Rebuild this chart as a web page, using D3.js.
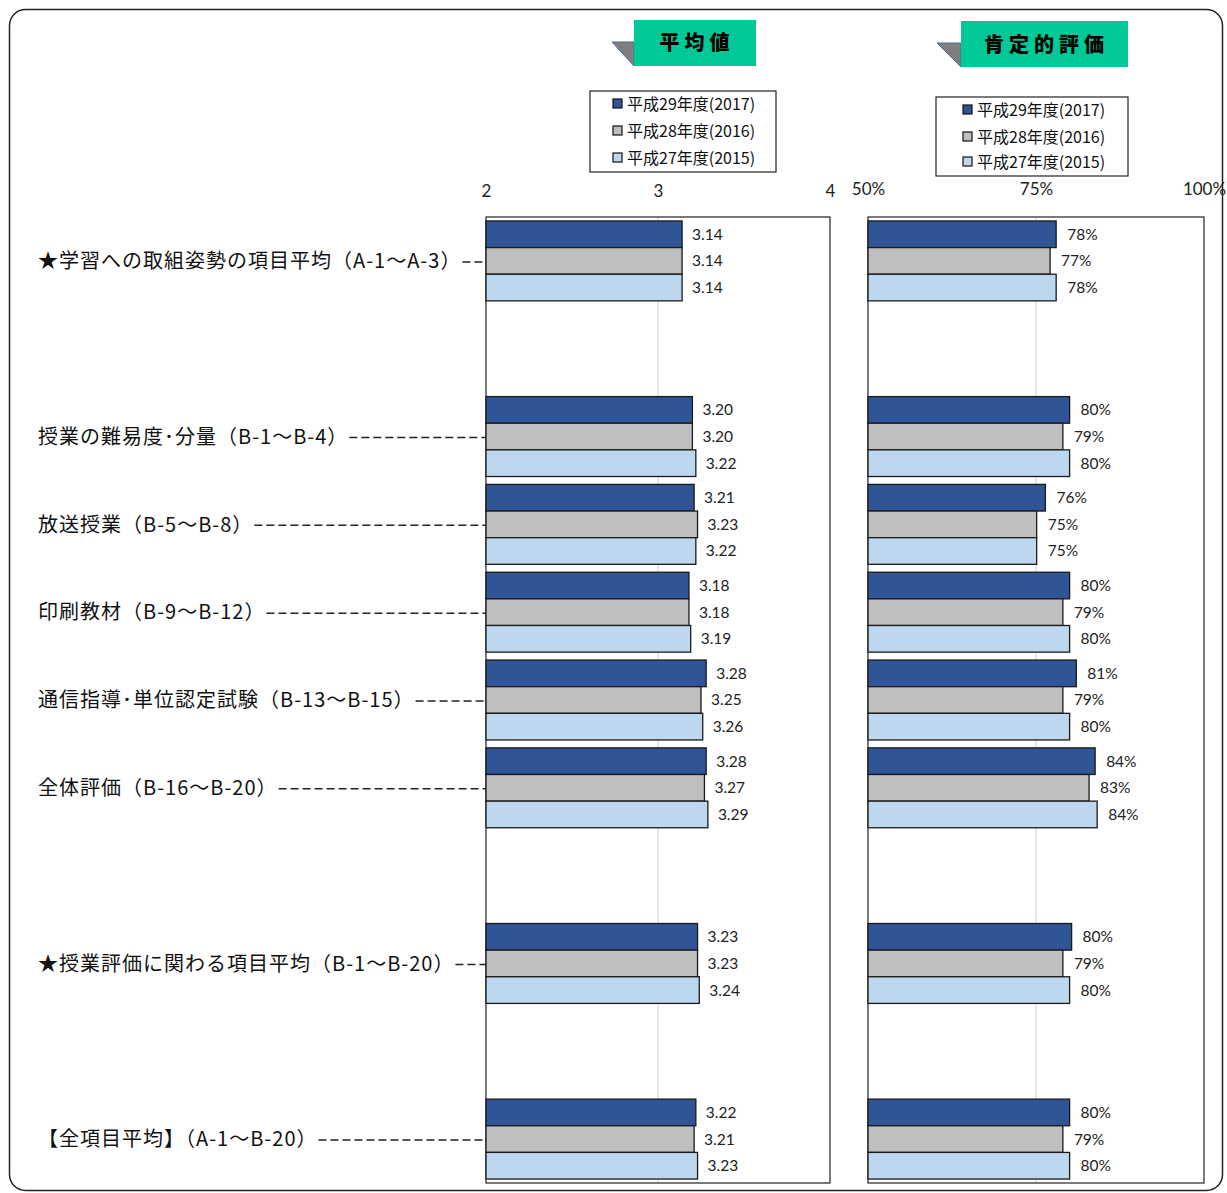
<!DOCTYPE html>
<meta charset="utf-8">
<script src="https://cdn.jsdelivr.net/npm/d3@7"></script>
<style>
  body { margin: 0; background: #fff; }
</style>
<div id="chart"></div>
<script>

// categories (blank entries are the empty rows of the sheet)
var categories = [
  "★学習への取組姿勢の項目平均（A-1～A-3）",
  "",
  "授業の難易度･分量（B-1～B-4）",
  "放送授業（B-5～B-8）",
  "印刷教材（B-9～B-12）",
  "通信指導･単位認定試験（B-13～B-15）",
  "全体評価（B-16～B-20）",
  "",
  "★授業評価に関わる項目平均（B-1～B-20）",
  "",
  "【全項目平均】（A-1～B-20）"
];
var seriesNames = ["平成29年度(2017)", "平成28年度(2016)", "平成27年度(2015)"];
var seriesColors = ["#2F5597", "#BFBFBF", "#BDD7EE"];

// 平均値
var mean2017 = [3.14, null, 3.20, 3.21, 3.18, 3.28, 3.28, null, 3.23, null, 3.22];
var mean2016 = [3.14, null, 3.20, 3.23, 3.18, 3.25, 3.27, null, 3.23, null, 3.21];
var mean2015 = [3.14, null, 3.22, 3.22, 3.19, 3.26, 3.29, null, 3.24, null, 3.23];
var meanTicks = [2, 3, 4];

// 肯定的評価 (%)
var pos2017 = [78, null, 80, 76.4, 80, 81, 83.8, null, 80.3, null, 80];
var pos2016 = [77.1, null, 79, 75.1, 79, 79, 82.9, null, 79, null, 79];
var pos2015 = [78, null, 80, 75.1, 80, 80, 84.1, null, 80, null, 80];
var posTicks = [50, 75, 100];

var width = 1227, height = 1193;
var jp = "'Noto Sans CJK JP', 'Noto Sans', sans-serif";
var num = "Lato, 'Liberation Sans', sans-serif";

var svg = d3.select("#chart")
  .append("svg")
    .attr("width", width)
    .attr("height", height);

// outer rounded frame
svg.append("rect")
  .attr("x", 9.5).attr("y", 9.5)
  .attr("width", 1213).attr("height", 1181)
  .attr("rx", 16)
  .attr("fill", "none")
  .attr("stroke", "#222")
  .attr("stroke-width", 1.5);

var plotTop = 217, plotBottom = 1183;

var y = d3.scaleBand()
  .domain(d3.range(categories.length))
  .range([plotTop, plotBottom])
  .paddingInner(0.09)
  .paddingOuter(0.045);

var ySub = d3.scaleBand()
  .domain(d3.range(seriesNames.length))
  .range([0, y.bandwidth()]);

function drawPanel(opt) {
  var x = d3.scaleLinear().domain(opt.domain).range(opt.range);
  var g = svg.append("g");

  // tick labels
  var axis = g.append("g")
    .attr("transform", "translate(0," + opt.tickY + ")")
    .call(d3.axisTop(x).tickValues(opt.ticks).tickSize(0).tickPadding(0).tickFormat(opt.tickFormat));
  axis.select(".domain").remove();
  axis.selectAll("text")
    .attr("font-family", num)
    .attr("font-size", 17)
    .attr("fill", "#222");

  // gridline
  g.append("line")
    .attr("x1", x(opt.grid)).attr("x2", x(opt.grid))
    .attr("y1", plotTop).attr("y2", plotBottom)
    .attr("stroke", "#D9D9D9")
    .attr("stroke-width", 1.2);

  // plot box
  g.append("rect")
    .attr("x", x(opt.domain[0])).attr("y", plotTop)
    .attr("width", x(opt.domain[1]) - x(opt.domain[0]))
    .attr("height", plotBottom - plotTop)
    .attr("fill", "none")
    .attr("stroke", "#222")
    .attr("stroke-width", 1.2);

  opt.series.forEach(function(vals, s) {
    var rows = vals.map(function(v, i) { return {v: v, i: i}; })
      .filter(function(d) { return d.v != null; });

    g.selectAll(".bar" + s)
      .data(rows)
      .enter()
      .append("rect")
        .attr("x", x(opt.domain[0]))
        .attr("y", function(d) { return y(d.i) + ySub(s); })
        .attr("width", function(d) { return x(d.v) - x(opt.domain[0]); })
        .attr("height", ySub.bandwidth())
        .attr("fill", seriesColors[s])
        .attr("stroke", "#1a1a1a")
        .attr("stroke-width", 1.3);

    g.selectAll(".lab" + s)
      .data(rows)
      .enter()
      .append("text")
        .attr("x", function(d) { return x(d.v) + opt.labelGap; })
        .attr("y", function(d) { return y(d.i) + ySub(s) + ySub.bandwidth() / 2; })
        .attr("dy", "0.35em")
        .attr("font-family", num)
        .attr("font-size", 15.5)
        .attr("fill", "#222")
        .text(function(d) { return opt.labelFormat(d.v); });
  });
}

drawPanel({
  domain: [2, 4], range: [486, 830], ticks: meanTicks, grid: 3, tickY: 197,
  tickFormat: d3.format("d"),
  series: [mean2017, mean2016, mean2015],
  labelGap: 10,
  labelFormat: d3.format(".2f")
});

drawPanel({
  domain: [50, 100], range: [868, 1204], ticks: posTicks, grid: 75, tickY: 195,
  tickFormat: function(d) { return d + "%"; },
  series: [pos2017, pos2016, pos2015],
  labelGap: 11,
  labelFormat: function(d) { return Math.round(d) + "%"; }
});

// category labels with dashed leaders
var leftEdge = 486;
categories.forEach(function(c, i) {
  if (!c) return;
  var cy = y(i) + y.bandwidth() / 2;
  var t = svg.append("text")
    .attr("x", 38)
    .attr("y", cy)
    .attr("dy", "0.36em")
    .attr("font-family", jp)
    .attr("font-size", 20)
    .attr("letter-spacing", 1)
    .attr("fill", "#111")
    .text(c);
  var len = t.node().getComputedTextLength();
  svg.append("line")
    .attr("x1", 38 + len + 1).attr("x2", leftEdge)
    .attr("y1", cy + 1).attr("y2", cy + 1)
    .attr("stroke", "#222")
    .attr("stroke-width", 1.5)
    .attr("stroke-dasharray", "8,4");
});

// title badges
function badge(x0, y0, w, h, tri, label, ty) {
  svg.append("polygon")
    .attr("points", [[x0 - tri, y0 + 22], [x0, y0 + 22], [x0, y0 + h]].join(" "))
    .attr("fill", "#7F7F7F")
    .attr("stroke", "#4A6A9A")
    .attr("stroke-width", 1);
  svg.append("rect")
    .attr("x", x0).attr("y", y0)
    .attr("width", w).attr("height", h)
    .attr("fill", "#00C896");
  svg.append("text")
    .attr("x", x0 + w / 2 + 2)
    .attr("y", ty)
    .attr("dy", "0.36em")
    .attr("text-anchor", "middle")
    .attr("font-family", jp)
    .attr("font-size", 20)
    .attr("font-weight", "900")
    .attr("letter-spacing", 5)
    .attr("fill", "#000")
    .text(label);
}
badge(634, 20, 122, 46, 22, "平均値", 43);
badge(961, 21, 167, 46, 24, "肯定的評価", 45);

// legends
function legend(x0, y0, w, h, mx, rows) {
  svg.append("rect")
    .attr("x", x0).attr("y", y0)
    .attr("width", w).attr("height", h)
    .attr("fill", "#fff")
    .attr("stroke", "#222")
    .attr("stroke-width", 1.2);
  var items = svg.selectAll(null)
    .data(seriesNames)
    .enter()
    .append("g")
      .attr("transform", function(d, i) { return "translate(" + mx + "," + rows[i] + ")"; });
  items.append("rect")
    .attr("x", 0).attr("y", -5)
    .attr("width", 9).attr("height", 9)
    .attr("fill", function(d, i) { return seriesColors[i]; })
    .attr("stroke", "#111")
    .attr("stroke-width", 1.2);
  items.append("text")
    .attr("x", 14)
    .attr("dy", "0.35em")
    .attr("font-family", jp)
    .attr("font-size", 16)
    .attr("fill", "#111")
    .text(function(d) { return d; });
}
legend(590, 91, 186, 81, 613, [104, 131, 158]);
legend(936, 97, 192, 79, 963, [110, 137, 162]);

</script>
